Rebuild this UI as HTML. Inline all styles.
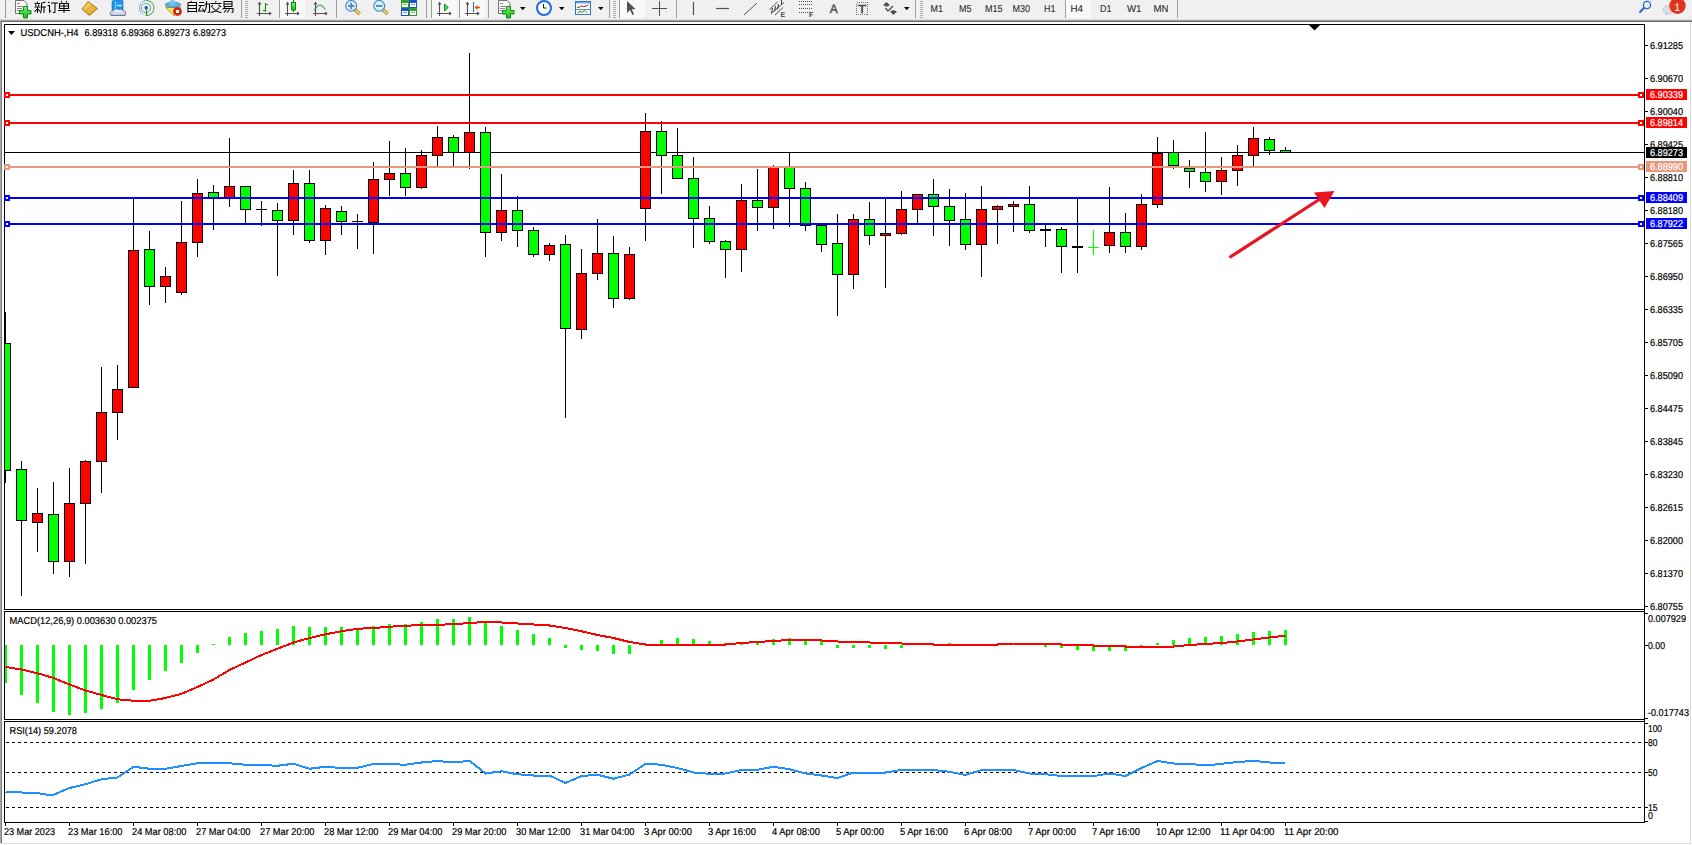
<!DOCTYPE html>
<html><head><meta charset="utf-8"><title>USDCNH H4</title>
<style>html,body{margin:0;padding:0;background:#fff;}svg{display:block;}text{font-family:'Liberation Sans', sans-serif;}</style>
</head><body>
<svg width="1692" height="845" viewBox="0 0 1692 845" style="font-family:'Liberation Sans', sans-serif" text-rendering="geometricPrecision">
<rect x="0" y="0" width="1692" height="845" fill="#fff"/>
<g shape-rendering="crispEdges">
<rect x="0" y="0" width="1692" height="20" fill="#f0f0f0" />
<rect x="0" y="19" width="1692" height="1" fill="#dedede" />
<rect x="0" y="20" width="1692" height="1" fill="#a0a0a0" />
<rect x="0" y="21" width="1692" height="1" fill="#6c6c6c" />
<rect x="280" y="0" width="25" height="18" fill="#f9f9f9" />
<rect x="432" y="0" width="25" height="18" fill="#f9f9f9" />
<rect x="460" y="0" width="25" height="18" fill="#f9f9f9" />
<rect x="620" y="0" width="25" height="18" fill="#f9f9f9" />
<rect x="1066" y="0" width="25" height="18" fill="#f9f9f9" />
<rect x="5" y="0" width="1" height="18" fill="#9c9c9c" />
<rect x="241" y="0" width="1" height="18" fill="#9c9c9c" />
<rect x="279" y="0" width="1" height="18" fill="#9c9c9c" />
<rect x="336" y="0" width="1" height="18" fill="#9c9c9c" />
<rect x="426" y="0" width="1" height="18" fill="#9c9c9c" />
<rect x="431" y="0" width="1" height="18" fill="#9c9c9c" />
<rect x="459" y="0" width="1" height="18" fill="#9c9c9c" />
<rect x="488" y="0" width="1" height="18" fill="#9c9c9c" />
<rect x="609" y="0" width="1" height="18" fill="#9c9c9c" />
<rect x="619" y="0" width="1" height="18" fill="#9c9c9c" />
<rect x="676" y="0" width="1" height="18" fill="#9c9c9c" />
<rect x="915" y="0" width="1" height="18" fill="#9c9c9c" />
<rect x="1065" y="0" width="1" height="18" fill="#9c9c9c" />
<rect x="1177" y="0" width="1" height="18" fill="#9c9c9c" />
<rect x="245" y="1" width="3" height="1" fill="#b0b0b0" />
<rect x="245" y="3" width="3" height="1" fill="#b0b0b0" />
<rect x="245" y="5" width="3" height="1" fill="#b0b0b0" />
<rect x="245" y="7" width="3" height="1" fill="#b0b0b0" />
<rect x="245" y="9" width="3" height="1" fill="#b0b0b0" />
<rect x="245" y="11" width="3" height="1" fill="#b0b0b0" />
<rect x="245" y="13" width="3" height="1" fill="#b0b0b0" />
<rect x="245" y="15" width="3" height="1" fill="#b0b0b0" />
<rect x="245" y="17" width="3" height="1" fill="#b0b0b0" />
<rect x="613" y="1" width="3" height="1" fill="#b0b0b0" />
<rect x="613" y="3" width="3" height="1" fill="#b0b0b0" />
<rect x="613" y="5" width="3" height="1" fill="#b0b0b0" />
<rect x="613" y="7" width="3" height="1" fill="#b0b0b0" />
<rect x="613" y="9" width="3" height="1" fill="#b0b0b0" />
<rect x="613" y="11" width="3" height="1" fill="#b0b0b0" />
<rect x="613" y="13" width="3" height="1" fill="#b0b0b0" />
<rect x="613" y="15" width="3" height="1" fill="#b0b0b0" />
<rect x="613" y="17" width="3" height="1" fill="#b0b0b0" />
<rect x="920" y="1" width="3" height="1" fill="#b0b0b0" />
<rect x="920" y="3" width="3" height="1" fill="#b0b0b0" />
<rect x="920" y="5" width="3" height="1" fill="#b0b0b0" />
<rect x="920" y="7" width="3" height="1" fill="#b0b0b0" />
<rect x="920" y="9" width="3" height="1" fill="#b0b0b0" />
<rect x="920" y="11" width="3" height="1" fill="#b0b0b0" />
<rect x="920" y="13" width="3" height="1" fill="#b0b0b0" />
<rect x="920" y="15" width="3" height="1" fill="#b0b0b0" />
<rect x="920" y="17" width="3" height="1" fill="#b0b0b0" />
</g>
<path d="M15.5,0.5 h8.5 l3,3 v10 h-11.5 z" fill="#fcfcfc" stroke="#707070" stroke-width="1"/>
<path d="M17,3 h3 M17,6.5 h6 M17,8.5 h5 M17,10.5 h4" stroke="#8a8a8a" stroke-width="1" shape-rendering="crispEdges"/>
<path d="M23.5,6.5 h4 v4 h3.5 v3.5 h-3.5 v4 h-4 v-4 h-4 v-3.5 h4 z" fill="url(#grn)" stroke="#0a8010" stroke-width="0.9"/>
<path transform="translate(34,1)" d="M3.5,0.5 v1.2 M0.5,2.5 h5.5 M1.5,3.5 l0.7,1.5 M5,3.5 l-0.7,1.5 M0.5,6 h6 M3.5,6 v6 M3,8 l-2.5,3 M4,8 l2,2.5 M11.5,1 l-4,1.2 M7.5,2.2 v4 q0,4 -1.2,6 M7.5,6 h4.5 M10,6 v6" fill="none" stroke="#000" stroke-width="1.05"/>
<path transform="translate(47,1)" d="M1,0.8 l1.5,1.3 M0.5,4.5 h2 v6.5 l1.5,-1.5 M4,2 h7 M8,2 v9 q0,1 -2.2,0.3" fill="none" stroke="#000" stroke-width="1.05"/>
<path transform="translate(58,1)" d="M3,0 l1,1.5 M9,0 l-1,1.5 M1.5,2.5 h9 v5 h-9 z M1.5,5 h9 M6,2.5 v9.5 M0,9.5 h12" fill="none" stroke="#000" stroke-width="1.05"/>
<defs><linearGradient id="gold" x1="0" y1="0" x2="1" y2="1"><stop offset="0" stop-color="#ffe070"/><stop offset="1" stop-color="#d49a10"/></linearGradient><linearGradient id="grn" x1="0" y1="0" x2="0" y2="1"><stop offset="0" stop-color="#7af07a"/><stop offset="1" stop-color="#10c010"/></linearGradient><linearGradient id="cloud" x1="0" y1="0" x2="0" y2="1"><stop offset="0" stop-color="#ffffff"/><stop offset="1" stop-color="#b8c4d8"/></linearGradient></defs>
<path d="M88,1.5 L97.5,8.5 L89.5,15.5 L82,9 Q85,6 88,1.5 Z" fill="url(#gold)" stroke="#9a6a10" stroke-width="0.9"/>
<path d="M83,9.5 L90,15 M85.5,11 L92,6" stroke="#c89030" stroke-width="0.8" fill="none"/>
<path d="M112,1 L116,0 L123,0.5 L123,10 L112,10 Z" fill="#1a9af0" stroke="#1060c0" stroke-width="0.6"/>
<path d="M115.5,1 v9" stroke="#d0ecff" stroke-width="0.6"/>
<path d="M117,5.5 h5" stroke="#e8f4ff" stroke-width="1.2"/>
<path d="M111,15.5 Q109,11 113,11 Q115,7.5 119,9.5 Q121,8 123,10.5 Q127,11 125,15.5 Z" fill="url(#cloud)" stroke="#4a6090" stroke-width="0.8"/>
<path d="M142.5,14 A7.5,7.5 0 0 1 146,0.5" fill="none" stroke="#4a78d0" stroke-width="1" stroke-dasharray="2 1"/>
<path d="M146,0.5 A7.5,7.5 0 0 1 147,15.5" fill="none" stroke="#40a040" stroke-width="1"/>
<circle cx="146" cy="8" r="4.6" fill="none" stroke="#7aa0d8" stroke-width="1"/>
<path d="M146,3.4 A4.6,4.6 0 0 1 150,10" fill="none" stroke="#70c070" stroke-width="1"/>
<circle cx="146.2" cy="7.8" r="1.8" fill="#2050c8"/>
<path d="M146.5,8 v8" stroke="#10a010" stroke-width="1.2"/>
<path d="M165.5,7.5 L181,7.5 L174,15.8 Z" fill="#f8e060" stroke="#c09020" stroke-width="0.9"/>
<ellipse cx="173" cy="4.8" rx="7.8" ry="2.6" fill="#60b0e0" stroke="#3888c0" stroke-width="0.8"/>
<ellipse cx="172.5" cy="2.6" rx="3" ry="2.6" fill="#78c4ee"/>
<circle cx="177.5" cy="11.5" r="4" fill="#e02810" stroke="#b01808" stroke-width="0.6"/>
<rect x="176" y="10" width="3" height="3" fill="#fff"/>
<path transform="translate(187,1)" d="M4.5,0 l-0.8,1.3 M1,1.5 h8.5 v10 M1,1.5 v10 M1,4.5 h8.5 M1,7.5 h8.5 M1,10.5 h8.5" fill="none" stroke="#000" stroke-width="1.05"/>
<path transform="translate(198,1)" d="M1,1.5 h5 M0.5,4.5 h6 M3,4.5 l-2.5,5.5 h5 M4.5,7.5 l1.5,2.5 M8.5,0 v3 q0,5.5 -2.5,8.5 M6.5,3 h5 v7.5 q0,1 -1.8,0.5" fill="none" stroke="#000" stroke-width="1.05"/>
<path transform="translate(210,1)" d="M5.8,0 v1.5 M0.5,2.5 h11 M3,4 l-2,2.2 M8.5,4 l2.5,2.2 M2.5,6.5 q3.5,4.5 9,5 M9,6.5 q-3,4.5 -8.5,5" fill="none" stroke="#000" stroke-width="1.05"/>
<path transform="translate(222,1)" d="M2,0.5 h8 v5 h-8 z M2,3 h8 M3,6 l-2.5,2.5 M2,7.5 h9 v3 q0,1.2 -1.5,1 M4.5,8.5 l-2.5,3 M7.5,8.5 l-2.5,3" fill="none" stroke="#000" stroke-width="1.05"/>
<path d="M259.5,2.5 v13.5 M257,13.5 h13" stroke="#505050" stroke-width="1.1" fill="none"/>
<path d="M257.5,4.5 l2,-2.8 2,2.8 z M269,11.5 l2.8,2 -2.8,2 z" fill="#505050"/>
<path d="M265.5,3 v9 M265.5,4.5 h2.5 M263,10.5 h2.5" stroke="#108a10" stroke-width="1.1" fill="none"/>
<path d="M287.5,2.5 v13.5 M285,13.5 h13" stroke="#505050" stroke-width="1.1" fill="none"/>
<path d="M285.5,4.5 l2,-2.8 2,2.8 z M297,11.5 l2.8,2 -2.8,2 z" fill="#505050"/>
<rect x="291.5" y="2.5" width="4" height="7.5" fill="url(#grn)" stroke="#0a8a0a" stroke-width="1"/>
<path d="M293.5,0 v2.5 M293.5,10 v2" stroke="#0a8a0a" stroke-width="1"/>
<path d="M315.5,2.5 v13.5 M313,13.5 h13" stroke="#505050" stroke-width="1.1" fill="none"/>
<path d="M313.5,4.5 l2,-2.8 2,2.8 z M325,11.5 l2.8,2 -2.8,2 z" fill="#505050"/>
<path d="M314,10.5 Q318,5 320,5 Q322,5 325.5,9.5" fill="none" stroke="#2a9a2a" stroke-width="1.1"/>
<path d="M354.7,9.5 L359.7,14" stroke="#a07010" stroke-width="3.2"/>
<path d="M354.7,9.5 L359.7,14" stroke="#f0d860" stroke-width="1.8"/>
<circle cx="351.2" cy="5.9" r="5.4" fill="#d8f0ff" stroke="#3a80c8" stroke-width="1.1"/>
<path d="M348.0,5.9 h6.4" stroke="#4a88b0" stroke-width="1.8"/>
<path d="M351.2,2.7 v6.4" stroke="#4a88b0" stroke-width="1.8"/>
<path d="M382.7,9.5 L387.7,14" stroke="#a07010" stroke-width="3.2"/>
<path d="M382.7,9.5 L387.7,14" stroke="#f0d860" stroke-width="1.8"/>
<circle cx="379.2" cy="5.9" r="5.4" fill="#d8f0ff" stroke="#3a80c8" stroke-width="1.1"/>
<path d="M376.0,5.9 h6.4" stroke="#4a88b0" stroke-width="1.8"/>
<rect x="401" y="0" width="8" height="8" fill="#30a020"/>
<rect x="402" y="3" width="6" height="4" fill="#fff"/>
<rect x="403" y="4" width="4" height="1" fill="#30a020" opacity="0.6"/>
<rect x="409" y="0" width="8" height="8" fill="#2050d0"/>
<rect x="410" y="3" width="6" height="4" fill="#fff"/>
<rect x="411" y="4" width="4" height="1" fill="#2050d0" opacity="0.6"/>
<rect x="401" y="8" width="8" height="8" fill="#2050d0"/>
<rect x="402" y="11" width="6" height="4" fill="#fff"/>
<rect x="403" y="12" width="4" height="1" fill="#2050d0" opacity="0.6"/>
<rect x="409" y="8" width="8" height="8" fill="#30a020"/>
<rect x="410" y="11" width="6" height="4" fill="#fff"/>
<rect x="411" y="12" width="4" height="1" fill="#30a020" opacity="0.6"/>
<path d="M439.5,2.5 v13.5 M437,13.5 h13" stroke="#505050" stroke-width="1.1" fill="none"/>
<path d="M437.5,4.5 l2,-2.8 2,2.8 z M449,11.5 l2.8,2 -2.8,2 z" fill="#505050"/>
<path d="M444.5,4 v7 l3.8,-3.5 z" fill="#50d050" stroke="#0a900a" stroke-width="0.9"/>
<path d="M467.5,2.5 v13.5 M465,13.5 h13" stroke="#505050" stroke-width="1.1" fill="none"/>
<path d="M465.5,4.5 l2,-2.8 2,2.8 z M477,11.5 l2.8,2 -2.8,2 z" fill="#505050"/>
<path d="M473.5,2 v10" stroke="#1a70b0" stroke-width="1"/>
<path d="M474.5,7.5 l3,-2.5 v1.8 h2.5 v1.4 h-2.5 v1.8 z" fill="#e05010"/>
<path d="M498.5,0.5 h8.5 l3,3 v10 h-11.5 z" fill="#fcfcfc" stroke="#707070" stroke-width="1"/>
<path d="M500,3 h3 M500,6.5 h6 M500,8.5 h5 M500,10.5 h4" stroke="#8a8a8a" stroke-width="1" shape-rendering="crispEdges"/>
<path d="M506.5,6.5 h4 v4 h3.5 v3.5 h-3.5 v4 h-4 v-4 h-4 v-3.5 h4 z" fill="url(#grn)" stroke="#0a8010" stroke-width="0.9"/>
<path d="M520,7 h5.5 l-2.75,3.2 z" fill="#000"/>
<circle cx="544" cy="8" r="7" fill="#f8fbff" stroke="#1a70d8" stroke-width="2"/>
<path d="M543.5,4 v4 h3" stroke="#222" stroke-width="1" fill="none"/>
<path d="M559,7 h5.5 l-2.75,3.2 z" fill="#000"/>
<rect x="575.5" y="1.5" width="15" height="13" fill="#fff" stroke="#3a70c0"/>
<rect x="576" y="2" width="14" height="1.5" fill="#70a8e8"/>
<path d="M576,9.5 h14" stroke="#5a88c8" stroke-width="1"/>
<path d="M577,7.5 l2.5,-0.5 2,-1.2 2,1 3,-1 2,-0.8" stroke="#902010" fill="none" stroke-width="1"/>
<path d="M577.5,12.5 l2.5,-1 2,0.8 2.5,-2 2.5,2.5" stroke="#109010" fill="none" stroke-width="1"/>
<path d="M598,7 h5.5 l-2.75,3.2 z" fill="#000"/>
<path d="M627,1 v12 l3,-3 l2.5,5 l1.6,-0.8 l-2.4,-5 h4 z" fill="#505050"/>
<path d="M659.5,1 v15 M652,8.5 h15" stroke="#505050" stroke-width="1" shape-rendering="crispEdges"/>
<path d="M693.5,2 v13" stroke="#505050" stroke-width="1.2"/>
<path d="M716,8.5 h13" stroke="#505050" stroke-width="1.2"/>
<path d="M744,15 l13,-12" stroke="#505050" stroke-width="1"/>
<path d="M769.5,9.5 l8,-7.5 M771,13.5 l13,-11 M775,15 l8,-7.5" stroke="#404040" stroke-width="0.9"/>
<path d="M772.5,8 l-1,5.5 M775.5,6 l-1,5.5 M778.5,4 l-1,5.5 M781.5,0 v4" stroke="#404040" stroke-width="1.1"/>
<text x="780.5" y="17" font-size="7" fill="#444" font-weight="bold" >E</text>
<g fill="#505050" shape-rendering="crispEdges">
<rect x="799" y="1" width="1" height="1"/>
<rect x="801" y="1" width="1" height="1"/>
<rect x="803" y="1" width="1" height="1"/>
<rect x="805" y="1" width="1" height="1"/>
<rect x="807" y="1" width="1" height="1"/>
<rect x="809" y="1" width="1" height="1"/>
<rect x="811" y="1" width="1" height="1"/>
<rect x="799" y="4" width="1" height="1"/>
<rect x="801" y="4" width="1" height="1"/>
<rect x="803" y="4" width="1" height="1"/>
<rect x="805" y="4" width="1" height="1"/>
<rect x="807" y="4" width="1" height="1"/>
<rect x="809" y="4" width="1" height="1"/>
<rect x="811" y="4" width="1" height="1"/>
<rect x="799" y="8" width="1" height="1"/>
<rect x="801" y="8" width="1" height="1"/>
<rect x="803" y="8" width="1" height="1"/>
<rect x="805" y="8" width="1" height="1"/>
<rect x="807" y="8" width="1" height="1"/>
<rect x="809" y="8" width="1" height="1"/>
<rect x="811" y="8" width="1" height="1"/>
<rect x="799" y="12" width="1" height="1"/>
<rect x="801" y="12" width="1" height="1"/>
<rect x="803" y="12" width="1" height="1"/>
<rect x="805" y="12" width="1" height="1"/>
<rect x="807" y="12" width="1" height="1"/>
<rect x="809" y="12" width="1" height="1"/>
<rect x="811" y="12" width="1" height="1"/>
</g>
<text x="809" y="17" font-size="7" fill="#444" font-weight="bold" >F</text>
<text x="829.8" y="13" font-size="12.5" fill="#4a4a4a" stroke="#4a4a4a" stroke-width="0.35" textLength="8" lengthAdjust="spacingAndGlyphs" >A</text>
<rect x="856.5" y="2.5" width="11" height="12" fill="none" stroke="#707070" stroke-dasharray="1 1" shape-rendering="crispEdges"/>
<text x="857.7" y="12.8" font-size="11.5" fill="#4a4a4a" stroke="#4a4a4a" stroke-width="0.45" textLength="8.5" lengthAdjust="spacingAndGlyphs" >T</text>
<path d="M883,5.2 l3.5,-3.2 3.5,3.2 -3.5,1.5 z M890,11.5 l3.5,-1.5 3.5,1.5 -3.5,3.5 z" fill="#505050"/>
<path d="M885.5,8 l2.5,3 5,-5" stroke="#505050" stroke-width="1.4" fill="none"/>
<path d="M904,7 h5.5 l-2.75,3.2 z" fill="#000"/>
<text x="930.5" y="12" font-size="10" fill="#2a2a2a" stroke="#2a2a2a" stroke-width="0.1" textLength="12.5" lengthAdjust="spacingAndGlyphs" >M1</text>
<text x="959" y="12" font-size="10" fill="#2a2a2a" stroke="#2a2a2a" stroke-width="0.1" textLength="12.5" lengthAdjust="spacingAndGlyphs" >M5</text>
<text x="985" y="12" font-size="10" fill="#2a2a2a" stroke="#2a2a2a" stroke-width="0.1" textLength="17.5" lengthAdjust="spacingAndGlyphs" >M15</text>
<text x="1012.5" y="12" font-size="10" fill="#2a2a2a" stroke="#2a2a2a" stroke-width="0.1" textLength="17.5" lengthAdjust="spacingAndGlyphs" >M30</text>
<text x="1044" y="12" font-size="10" fill="#2a2a2a" stroke="#2a2a2a" stroke-width="0.1" textLength="11.5" lengthAdjust="spacingAndGlyphs" >H1</text>
<text x="1070.5" y="12" font-size="10" fill="#2a2a2a" stroke="#2a2a2a" stroke-width="0.1" textLength="12.5" lengthAdjust="spacingAndGlyphs" >H4</text>
<text x="1100" y="12" font-size="10" fill="#2a2a2a" stroke="#2a2a2a" stroke-width="0.1" textLength="11.5" lengthAdjust="spacingAndGlyphs" >D1</text>
<text x="1127" y="12" font-size="10" fill="#2a2a2a" stroke="#2a2a2a" stroke-width="0.1" textLength="14.5" lengthAdjust="spacingAndGlyphs" >W1</text>
<text x="1153.5" y="12" font-size="10" fill="#2a2a2a" stroke="#2a2a2a" stroke-width="0.1" textLength="15.0" lengthAdjust="spacingAndGlyphs" >MN</text>
<circle cx="1647" cy="5" r="3.6" fill="none" stroke="#2a60d0" stroke-width="1.3"/>
<path d="M1644.5,7.5 l-5,5" stroke="#2a60d0" stroke-width="2"/>
<ellipse cx="1668" cy="10" rx="5" ry="4.2" fill="#dadde6" stroke="#c0c0c0" stroke-width="0.8"/>
<path d="M1666,13 l-1,3 3,-2 z" fill="#c8c8c8"/>
<circle cx="1677.5" cy="5.8" r="8.2" fill="#e0341c"/>
<text x="1674.5" y="10.5" font-size="11" fill="#fff" stroke="#fff" stroke-width="0.1" textLength="5.5" lengthAdjust="spacingAndGlyphs" >1</text>
<g shape-rendering="crispEdges">
<rect x="0" y="21" width="1" height="822" fill="#a8a8a8" />
<rect x="1" y="21" width="1" height="822" fill="#7c7c7c" />
<rect x="1690" y="22" width="1" height="822" fill="#dcdcdc" />
<rect x="0" y="843" width="1691" height="1" fill="#dcdcdc" />
<rect x="4" y="24" width="1641" height="1" fill="#000" />
<rect x="4" y="24" width="1" height="586" fill="#000" />
<rect x="4" y="609" width="1641" height="1" fill="#000" />
<rect x="1644" y="24" width="1" height="799" fill="#000" />
<rect x="4" y="611" width="1641" height="1" fill="#000" />
<rect x="4" y="611" width="1" height="109" fill="#000" />
<rect x="4" y="719" width="1641" height="1" fill="#000" />
<rect x="4" y="721" width="1641" height="1" fill="#000" />
<rect x="4" y="721" width="1" height="102" fill="#000" />
<rect x="4" y="822" width="1641" height="1" fill="#000" />
</g>
<svg x="5" y="25" width="1639" height="584" overflow="hidden"><g transform="translate(-5,-25)" shape-rendering="crispEdges">
<rect x="5" y="152" width="1639" height="1" fill="#000" />
<rect x="5" y="312" width="1" height="171" fill="#000" />
<rect x="0" y="343" width="11" height="128" fill="#000" />
<rect x="1" y="344" width="9" height="126" fill="#00ff00" />
<rect x="21" y="461" width="1" height="135" fill="#000" />
<rect x="16" y="469" width="11" height="52" fill="#000" />
<rect x="17" y="470" width="9" height="50" fill="#00ff00" />
<rect x="37" y="488" width="1" height="64" fill="#000" />
<rect x="32" y="513" width="11" height="10" fill="#000" />
<rect x="33" y="514" width="9" height="8" fill="#ff0000" />
<rect x="53" y="482" width="1" height="92" fill="#000" />
<rect x="48" y="514" width="11" height="48" fill="#000" />
<rect x="49" y="515" width="9" height="46" fill="#00ff00" />
<rect x="69" y="468" width="1" height="109" fill="#000" />
<rect x="64" y="503" width="11" height="59" fill="#000" />
<rect x="65" y="504" width="9" height="57" fill="#ff0000" />
<rect x="85" y="460" width="1" height="104" fill="#000" />
<rect x="80" y="461" width="11" height="43" fill="#000" />
<rect x="81" y="462" width="9" height="41" fill="#ff0000" />
<rect x="101" y="367" width="1" height="126" fill="#000" />
<rect x="96" y="412" width="11" height="50" fill="#000" />
<rect x="97" y="413" width="9" height="48" fill="#ff0000" />
<rect x="117" y="365" width="1" height="75" fill="#000" />
<rect x="112" y="389" width="11" height="24" fill="#000" />
<rect x="113" y="390" width="9" height="22" fill="#ff0000" />
<rect x="133" y="198" width="1" height="190" fill="#000" />
<rect x="128" y="250" width="11" height="138" fill="#000" />
<rect x="129" y="251" width="9" height="136" fill="#ff0000" />
<rect x="149" y="231" width="1" height="74" fill="#000" />
<rect x="144" y="249" width="11" height="38" fill="#000" />
<rect x="145" y="250" width="9" height="36" fill="#00ff00" />
<rect x="165" y="267" width="1" height="36" fill="#000" />
<rect x="160" y="276" width="11" height="11" fill="#000" />
<rect x="161" y="277" width="9" height="9" fill="#ff0000" />
<rect x="181" y="201" width="1" height="94" fill="#000" />
<rect x="176" y="242" width="11" height="51" fill="#000" />
<rect x="177" y="243" width="9" height="49" fill="#ff0000" />
<rect x="197" y="179" width="1" height="78" fill="#000" />
<rect x="192" y="193" width="11" height="50" fill="#000" />
<rect x="193" y="194" width="9" height="48" fill="#ff0000" />
<rect x="213" y="185" width="1" height="45" fill="#000" />
<rect x="208" y="192" width="11" height="6" fill="#000" />
<rect x="209" y="193" width="9" height="4" fill="#00ff00" />
<rect x="229" y="138" width="1" height="69" fill="#000" />
<rect x="224" y="186" width="11" height="12" fill="#000" />
<rect x="225" y="187" width="9" height="10" fill="#ff0000" />
<rect x="245" y="186" width="1" height="37" fill="#000" />
<rect x="240" y="186" width="11" height="24" fill="#000" />
<rect x="241" y="187" width="9" height="22" fill="#00ff00" />
<rect x="261" y="201" width="1" height="25" fill="#000" />
<rect x="256" y="209" width="11" height="1" fill="#000" />
<rect x="277" y="203" width="1" height="73" fill="#000" />
<rect x="272" y="210" width="11" height="11" fill="#000" />
<rect x="273" y="211" width="9" height="9" fill="#00ff00" />
<rect x="293" y="170" width="1" height="65" fill="#000" />
<rect x="288" y="183" width="11" height="38" fill="#000" />
<rect x="289" y="184" width="9" height="36" fill="#ff0000" />
<rect x="309" y="170" width="1" height="73" fill="#000" />
<rect x="304" y="183" width="11" height="58" fill="#000" />
<rect x="305" y="184" width="9" height="56" fill="#00ff00" />
<rect x="325" y="205" width="1" height="50" fill="#000" />
<rect x="320" y="208" width="11" height="33" fill="#000" />
<rect x="321" y="209" width="9" height="31" fill="#ff0000" />
<rect x="341" y="206" width="1" height="29" fill="#000" />
<rect x="336" y="211" width="11" height="11" fill="#000" />
<rect x="337" y="212" width="9" height="9" fill="#00ff00" />
<rect x="357" y="214" width="1" height="35" fill="#000" />
<rect x="352" y="221" width="11" height="1" fill="#000" />
<rect x="373" y="162" width="1" height="92" fill="#000" />
<rect x="368" y="179" width="11" height="44" fill="#000" />
<rect x="369" y="180" width="9" height="42" fill="#ff0000" />
<rect x="389" y="141" width="1" height="55" fill="#000" />
<rect x="384" y="173" width="11" height="7" fill="#000" />
<rect x="385" y="174" width="9" height="5" fill="#ff0000" />
<rect x="405" y="148" width="1" height="48" fill="#000" />
<rect x="400" y="173" width="11" height="15" fill="#000" />
<rect x="401" y="174" width="9" height="13" fill="#00ff00" />
<rect x="421" y="150" width="1" height="39" fill="#000" />
<rect x="416" y="155" width="11" height="33" fill="#000" />
<rect x="417" y="156" width="9" height="31" fill="#ff0000" />
<rect x="437" y="126" width="1" height="41" fill="#000" />
<rect x="432" y="137" width="11" height="19" fill="#000" />
<rect x="433" y="138" width="9" height="17" fill="#ff0000" />
<rect x="453" y="135" width="1" height="32" fill="#000" />
<rect x="448" y="137" width="11" height="16" fill="#000" />
<rect x="449" y="138" width="9" height="14" fill="#00ff00" />
<rect x="469" y="53" width="1" height="116" fill="#000" />
<rect x="464" y="132" width="11" height="21" fill="#000" />
<rect x="465" y="133" width="9" height="19" fill="#ff0000" />
<rect x="485" y="127" width="1" height="130" fill="#000" />
<rect x="480" y="132" width="11" height="101" fill="#000" />
<rect x="481" y="133" width="9" height="99" fill="#00ff00" />
<rect x="501" y="174" width="1" height="67" fill="#000" />
<rect x="496" y="210" width="11" height="23" fill="#000" />
<rect x="497" y="211" width="9" height="21" fill="#ff0000" />
<rect x="517" y="196" width="1" height="51" fill="#000" />
<rect x="512" y="210" width="11" height="21" fill="#000" />
<rect x="513" y="211" width="9" height="19" fill="#00ff00" />
<rect x="533" y="227" width="1" height="30" fill="#000" />
<rect x="528" y="230" width="11" height="25" fill="#000" />
<rect x="529" y="231" width="9" height="23" fill="#00ff00" />
<rect x="549" y="243" width="1" height="18" fill="#000" />
<rect x="544" y="245" width="11" height="10" fill="#000" />
<rect x="545" y="246" width="9" height="8" fill="#ff0000" />
<rect x="565" y="235" width="1" height="183" fill="#000" />
<rect x="560" y="244" width="11" height="85" fill="#000" />
<rect x="561" y="245" width="9" height="83" fill="#00ff00" />
<rect x="581" y="249" width="1" height="90" fill="#000" />
<rect x="576" y="273" width="11" height="57" fill="#000" />
<rect x="577" y="274" width="9" height="55" fill="#ff0000" />
<rect x="597" y="219" width="1" height="61" fill="#000" />
<rect x="592" y="253" width="11" height="21" fill="#000" />
<rect x="593" y="254" width="9" height="19" fill="#ff0000" />
<rect x="613" y="236" width="1" height="72" fill="#000" />
<rect x="608" y="253" width="11" height="46" fill="#000" />
<rect x="609" y="254" width="9" height="44" fill="#00ff00" />
<rect x="629" y="247" width="1" height="53" fill="#000" />
<rect x="624" y="254" width="11" height="45" fill="#000" />
<rect x="625" y="255" width="9" height="43" fill="#ff0000" />
<rect x="645" y="113" width="1" height="128" fill="#000" />
<rect x="640" y="131" width="11" height="78" fill="#000" />
<rect x="641" y="132" width="9" height="76" fill="#ff0000" />
<rect x="661" y="121" width="1" height="73" fill="#000" />
<rect x="656" y="131" width="11" height="25" fill="#000" />
<rect x="657" y="132" width="9" height="23" fill="#00ff00" />
<rect x="677" y="128" width="1" height="51" fill="#000" />
<rect x="672" y="155" width="11" height="24" fill="#000" />
<rect x="673" y="156" width="9" height="22" fill="#00ff00" />
<rect x="693" y="157" width="1" height="91" fill="#000" />
<rect x="688" y="178" width="11" height="41" fill="#000" />
<rect x="689" y="179" width="9" height="39" fill="#00ff00" />
<rect x="709" y="206" width="1" height="38" fill="#000" />
<rect x="704" y="218" width="11" height="24" fill="#000" />
<rect x="705" y="219" width="9" height="22" fill="#00ff00" />
<rect x="725" y="240" width="1" height="38" fill="#000" />
<rect x="720" y="241" width="11" height="9" fill="#000" />
<rect x="721" y="242" width="9" height="7" fill="#00ff00" />
<rect x="741" y="184" width="1" height="88" fill="#000" />
<rect x="736" y="200" width="11" height="50" fill="#000" />
<rect x="737" y="201" width="9" height="48" fill="#ff0000" />
<rect x="757" y="169" width="1" height="62" fill="#000" />
<rect x="752" y="200" width="11" height="8" fill="#000" />
<rect x="753" y="201" width="9" height="6" fill="#00ff00" />
<rect x="773" y="165" width="1" height="64" fill="#000" />
<rect x="768" y="167" width="11" height="41" fill="#000" />
<rect x="769" y="168" width="9" height="39" fill="#ff0000" />
<rect x="789" y="152" width="1" height="75" fill="#000" />
<rect x="784" y="167" width="11" height="22" fill="#000" />
<rect x="785" y="168" width="9" height="20" fill="#00ff00" />
<rect x="805" y="182" width="1" height="49" fill="#000" />
<rect x="800" y="188" width="11" height="38" fill="#000" />
<rect x="801" y="189" width="9" height="36" fill="#00ff00" />
<rect x="821" y="225" width="1" height="27" fill="#000" />
<rect x="816" y="225" width="11" height="20" fill="#000" />
<rect x="817" y="226" width="9" height="18" fill="#00ff00" />
<rect x="837" y="214" width="1" height="102" fill="#000" />
<rect x="832" y="243" width="11" height="32" fill="#000" />
<rect x="833" y="244" width="9" height="30" fill="#00ff00" />
<rect x="853" y="214" width="1" height="75" fill="#000" />
<rect x="848" y="219" width="11" height="56" fill="#000" />
<rect x="849" y="220" width="9" height="54" fill="#ff0000" />
<rect x="869" y="202" width="1" height="43" fill="#000" />
<rect x="864" y="219" width="11" height="17" fill="#000" />
<rect x="865" y="220" width="9" height="15" fill="#00ff00" />
<rect x="885" y="198" width="1" height="90" fill="#000" />
<rect x="880" y="233" width="11" height="3" fill="#000" />
<rect x="881" y="234" width="9" height="1" fill="#ff0000" />
<rect x="901" y="191" width="1" height="44" fill="#000" />
<rect x="896" y="209" width="11" height="25" fill="#000" />
<rect x="897" y="210" width="9" height="23" fill="#ff0000" />
<rect x="917" y="194" width="1" height="29" fill="#000" />
<rect x="912" y="194" width="11" height="16" fill="#000" />
<rect x="913" y="195" width="9" height="14" fill="#ff0000" />
<rect x="933" y="179" width="1" height="57" fill="#000" />
<rect x="928" y="194" width="11" height="13" fill="#000" />
<rect x="929" y="195" width="9" height="11" fill="#00ff00" />
<rect x="949" y="189" width="1" height="57" fill="#000" />
<rect x="944" y="206" width="11" height="15" fill="#000" />
<rect x="945" y="207" width="9" height="13" fill="#00ff00" />
<rect x="965" y="193" width="1" height="57" fill="#000" />
<rect x="960" y="219" width="11" height="26" fill="#000" />
<rect x="961" y="220" width="9" height="24" fill="#00ff00" />
<rect x="981" y="186" width="1" height="91" fill="#000" />
<rect x="976" y="209" width="11" height="36" fill="#000" />
<rect x="977" y="210" width="9" height="34" fill="#ff0000" />
<rect x="997" y="205" width="1" height="39" fill="#000" />
<rect x="992" y="206" width="11" height="4" fill="#000" />
<rect x="993" y="207" width="9" height="2" fill="#ff0000" />
<rect x="1013" y="201" width="1" height="31" fill="#000" />
<rect x="1008" y="204" width="11" height="3" fill="#000" />
<rect x="1009" y="205" width="9" height="1" fill="#ff0000" />
<rect x="1029" y="186" width="1" height="47" fill="#000" />
<rect x="1024" y="204" width="11" height="27" fill="#000" />
<rect x="1025" y="205" width="9" height="25" fill="#00ff00" />
<rect x="1045" y="225" width="1" height="22" fill="#000" />
<rect x="1040" y="229" width="11" height="2" fill="#000" />
<rect x="1061" y="227" width="1" height="46" fill="#000" />
<rect x="1056" y="229" width="11" height="18" fill="#000" />
<rect x="1057" y="230" width="9" height="16" fill="#00ff00" />
<rect x="1077" y="198" width="1" height="75" fill="#000" />
<rect x="1072" y="246" width="11" height="2" fill="#000" />
<rect x="1093" y="230" width="1" height="25" fill="#00ff00" />
<rect x="1088" y="247" width="11" height="1" fill="#00ff00" />
<rect x="1109" y="187" width="1" height="66" fill="#000" />
<rect x="1104" y="232" width="11" height="14" fill="#000" />
<rect x="1105" y="233" width="9" height="12" fill="#ff0000" />
<rect x="1125" y="213" width="1" height="40" fill="#000" />
<rect x="1120" y="232" width="11" height="15" fill="#000" />
<rect x="1121" y="233" width="9" height="13" fill="#00ff00" />
<rect x="1141" y="194" width="1" height="56" fill="#000" />
<rect x="1136" y="204" width="11" height="43" fill="#000" />
<rect x="1137" y="205" width="9" height="41" fill="#ff0000" />
<rect x="1157" y="137" width="1" height="71" fill="#000" />
<rect x="1152" y="153" width="11" height="52" fill="#000" />
<rect x="1153" y="154" width="9" height="50" fill="#ff0000" />
<rect x="1173" y="140" width="1" height="29" fill="#000" />
<rect x="1168" y="152" width="11" height="14" fill="#000" />
<rect x="1169" y="153" width="9" height="12" fill="#00ff00" />
<rect x="1189" y="160" width="1" height="28" fill="#000" />
<rect x="1184" y="168" width="11" height="4" fill="#000" />
<rect x="1185" y="169" width="9" height="2" fill="#00ff00" />
<rect x="1205" y="132" width="1" height="60" fill="#000" />
<rect x="1200" y="172" width="11" height="10" fill="#000" />
<rect x="1201" y="173" width="9" height="8" fill="#00ff00" />
<rect x="1221" y="157" width="1" height="38" fill="#000" />
<rect x="1216" y="170" width="11" height="12" fill="#000" />
<rect x="1217" y="171" width="9" height="10" fill="#ff0000" />
<rect x="1237" y="145" width="1" height="41" fill="#000" />
<rect x="1232" y="155" width="11" height="16" fill="#000" />
<rect x="1233" y="156" width="9" height="14" fill="#ff0000" />
<rect x="1253" y="127" width="1" height="39" fill="#000" />
<rect x="1248" y="138" width="11" height="18" fill="#000" />
<rect x="1249" y="139" width="9" height="16" fill="#ff0000" />
<rect x="1269" y="137" width="1" height="18" fill="#000" />
<rect x="1264" y="139" width="11" height="12" fill="#000" />
<rect x="1265" y="140" width="9" height="10" fill="#00ff00" />
<rect x="1285" y="147" width="1" height="6" fill="#000" />
<rect x="1280" y="150" width="11" height="3" fill="#000" />
<rect x="1281" y="151" width="9" height="1" fill="#00ff00" />
<rect x="5" y="94" width="1639" height="2" fill="#ff0000" />
<rect x="5" y="122" width="1639" height="2" fill="#ff0000" />
<rect x="5" y="166" width="1639" height="2" fill="#e9967a" />
<rect x="5" y="197" width="1639" height="2" fill="#0000ff" />
<rect x="5" y="223" width="1639" height="2" fill="#0000ff" />
</g></svg>
<g shape-rendering="crispEdges">
<rect x="1638" y="92" width="6" height="6" fill="#ff0000" />
<rect x="1640" y="94" width="2" height="2" fill="#fff" />
<rect x="4" y="92" width="6" height="6" fill="#ff0000" />
<rect x="6" y="94" width="2" height="2" fill="#fff" />
<rect x="1638" y="120" width="6" height="6" fill="#ff0000" />
<rect x="1640" y="122" width="2" height="2" fill="#fff" />
<rect x="4" y="120" width="6" height="6" fill="#ff0000" />
<rect x="6" y="122" width="2" height="2" fill="#fff" />
<rect x="1638" y="164" width="6" height="6" fill="#e9967a" />
<rect x="1640" y="166" width="2" height="2" fill="#fff" />
<rect x="4" y="164" width="6" height="6" fill="#e9967a" />
<rect x="6" y="166" width="2" height="2" fill="#fff" />
<rect x="1638" y="195" width="6" height="6" fill="#0000ff" />
<rect x="1640" y="197" width="2" height="2" fill="#fff" />
<rect x="4" y="195" width="6" height="6" fill="#0000ff" />
<rect x="6" y="197" width="2" height="2" fill="#fff" />
<rect x="1638" y="221" width="6" height="6" fill="#0000ff" />
<rect x="1640" y="223" width="2" height="2" fill="#fff" />
<rect x="4" y="221" width="6" height="6" fill="#0000ff" />
<rect x="6" y="223" width="2" height="2" fill="#fff" />
</g>
<line x1="1229.5" y1="257.5" x2="1320" y2="199" stroke="#e8141e" stroke-width="3.2"/>
<polygon points="1314,192.5 1334.5,191 1324.5,208" fill="#e8141e"/>
<polygon points="1309,25 1320,25 1314.5,30.5" fill="#000"/>
<polygon points="8,31 15,31 11.5,35" fill="#000"/>
<text x="20.5" y="36" font-size="10" fill="#000" stroke="#000" stroke-width="0.2" textLength="58" lengthAdjust="spacingAndGlyphs" >USDCNH-,H4</text>
<text x="84.5" y="36" font-size="10" fill="#000" stroke="#000" stroke-width="0.2" textLength="33.3" lengthAdjust="spacingAndGlyphs" >6.89318</text>
<text x="121" y="36" font-size="10" fill="#000" stroke="#000" stroke-width="0.2" textLength="33" lengthAdjust="spacingAndGlyphs" >6.89368</text>
<text x="157" y="36" font-size="10" fill="#000" stroke="#000" stroke-width="0.2" textLength="33" lengthAdjust="spacingAndGlyphs" >6.89273</text>
<text x="193" y="36" font-size="10" fill="#000" stroke="#000" stroke-width="0.2" textLength="33" lengthAdjust="spacingAndGlyphs" >6.89273</text>
<g shape-rendering="crispEdges">
<rect x="1645" y="45" width="3" height="1" fill="#000" />
<rect x="1645" y="78" width="3" height="1" fill="#000" />
<rect x="1645" y="111" width="3" height="1" fill="#000" />
<rect x="1645" y="144" width="3" height="1" fill="#000" />
<rect x="1645" y="177" width="3" height="1" fill="#000" />
<rect x="1645" y="210" width="3" height="1" fill="#000" />
<rect x="1645" y="243" width="3" height="1" fill="#000" />
<rect x="1645" y="276" width="3" height="1" fill="#000" />
<rect x="1645" y="309" width="3" height="1" fill="#000" />
<rect x="1645" y="342" width="3" height="1" fill="#000" />
<rect x="1645" y="375" width="3" height="1" fill="#000" />
<rect x="1645" y="408" width="3" height="1" fill="#000" />
<rect x="1645" y="441" width="3" height="1" fill="#000" />
<rect x="1645" y="474" width="3" height="1" fill="#000" />
<rect x="1645" y="507" width="3" height="1" fill="#000" />
<rect x="1645" y="540" width="3" height="1" fill="#000" />
<rect x="1645" y="573" width="3" height="1" fill="#000" />
<rect x="1645" y="606" width="3" height="1" fill="#000" />
</g>
<text x="1650" y="49" font-size="10" fill="#000" stroke="#000" stroke-width="0.2" textLength="33" lengthAdjust="spacingAndGlyphs" >6.91285</text>
<text x="1650" y="82" font-size="10" fill="#000" stroke="#000" stroke-width="0.2" textLength="33" lengthAdjust="spacingAndGlyphs" >6.90670</text>
<text x="1650" y="115" font-size="10" fill="#000" stroke="#000" stroke-width="0.2" textLength="33" lengthAdjust="spacingAndGlyphs" >6.90040</text>
<text x="1650" y="148" font-size="10" fill="#000" stroke="#000" stroke-width="0.2" textLength="33" lengthAdjust="spacingAndGlyphs" >6.89425</text>
<text x="1650" y="181" font-size="10" fill="#000" stroke="#000" stroke-width="0.2" textLength="33" lengthAdjust="spacingAndGlyphs" >6.88810</text>
<text x="1650" y="214" font-size="10" fill="#000" stroke="#000" stroke-width="0.2" textLength="33" lengthAdjust="spacingAndGlyphs" >6.88180</text>
<text x="1650" y="247" font-size="10" fill="#000" stroke="#000" stroke-width="0.2" textLength="33" lengthAdjust="spacingAndGlyphs" >6.87565</text>
<text x="1650" y="280" font-size="10" fill="#000" stroke="#000" stroke-width="0.2" textLength="33" lengthAdjust="spacingAndGlyphs" >6.86950</text>
<text x="1650" y="313" font-size="10" fill="#000" stroke="#000" stroke-width="0.2" textLength="33" lengthAdjust="spacingAndGlyphs" >6.86335</text>
<text x="1650" y="346" font-size="10" fill="#000" stroke="#000" stroke-width="0.2" textLength="33" lengthAdjust="spacingAndGlyphs" >6.85705</text>
<text x="1650" y="379" font-size="10" fill="#000" stroke="#000" stroke-width="0.2" textLength="33" lengthAdjust="spacingAndGlyphs" >6.85090</text>
<text x="1650" y="412" font-size="10" fill="#000" stroke="#000" stroke-width="0.2" textLength="33" lengthAdjust="spacingAndGlyphs" >6.84475</text>
<text x="1650" y="445" font-size="10" fill="#000" stroke="#000" stroke-width="0.2" textLength="33" lengthAdjust="spacingAndGlyphs" >6.83845</text>
<text x="1650" y="478" font-size="10" fill="#000" stroke="#000" stroke-width="0.2" textLength="33" lengthAdjust="spacingAndGlyphs" >6.83230</text>
<text x="1650" y="511" font-size="10" fill="#000" stroke="#000" stroke-width="0.2" textLength="33" lengthAdjust="spacingAndGlyphs" >6.82615</text>
<text x="1650" y="544" font-size="10" fill="#000" stroke="#000" stroke-width="0.2" textLength="33" lengthAdjust="spacingAndGlyphs" >6.82000</text>
<text x="1650" y="577" font-size="10" fill="#000" stroke="#000" stroke-width="0.2" textLength="33" lengthAdjust="spacingAndGlyphs" >6.81370</text>
<text x="1650" y="610" font-size="10" fill="#000" stroke="#000" stroke-width="0.2" textLength="33" lengthAdjust="spacingAndGlyphs" >6.80755</text>
<g shape-rendering="crispEdges">
<rect x="1646" y="89" width="41" height="11" fill="#ff0000" />
<rect x="1646" y="117" width="41" height="11" fill="#ff0000" />
<rect x="1646" y="147" width="41" height="11" fill="#000000" />
<rect x="1646" y="161" width="41" height="11" fill="#e9967a" />
<rect x="1646" y="192" width="41" height="11" fill="#0000ff" />
<rect x="1646" y="218" width="41" height="11" fill="#0000ff" />
</g>
<text x="1650" y="98" font-size="10" fill="#fff" stroke="#fff" stroke-width="0.2" textLength="33" lengthAdjust="spacingAndGlyphs" >6.90339</text>
<text x="1650" y="126" font-size="10" fill="#fff" stroke="#fff" stroke-width="0.2" textLength="33" lengthAdjust="spacingAndGlyphs" >6.89814</text>
<text x="1650" y="156" font-size="10" fill="#fff" stroke="#fff" stroke-width="0.2" textLength="33" lengthAdjust="spacingAndGlyphs" >6.89273</text>
<text x="1650" y="170" font-size="10" fill="#fff" stroke="#fff" stroke-width="0.2" textLength="33" lengthAdjust="spacingAndGlyphs" >6.88990</text>
<text x="1650" y="201" font-size="10" fill="#fff" stroke="#fff" stroke-width="0.2" textLength="33" lengthAdjust="spacingAndGlyphs" >6.88409</text>
<text x="1650" y="227" font-size="10" fill="#fff" stroke="#fff" stroke-width="0.2" textLength="33" lengthAdjust="spacingAndGlyphs" >6.87922</text>
<svg x="5" y="612" width="1639" height="107" overflow="hidden"><g transform="translate(-5,-612)">
<g shape-rendering="crispEdges">
<rect x="4" y="645" width="3" height="38" fill="#00ff00" />
<rect x="20" y="645" width="3" height="50" fill="#00ff00" />
<rect x="36" y="645" width="3" height="58" fill="#00ff00" />
<rect x="52" y="645" width="3" height="67" fill="#00ff00" />
<rect x="68" y="645" width="3" height="70" fill="#00ff00" />
<rect x="84" y="645" width="3" height="68" fill="#00ff00" />
<rect x="100" y="645" width="3" height="64" fill="#00ff00" />
<rect x="116" y="645" width="3" height="58" fill="#00ff00" />
<rect x="132" y="645" width="3" height="45" fill="#00ff00" />
<rect x="148" y="645" width="3" height="35" fill="#00ff00" />
<rect x="164" y="645" width="3" height="26" fill="#00ff00" />
<rect x="180" y="645" width="3" height="18" fill="#00ff00" />
<rect x="196" y="645" width="3" height="8" fill="#00ff00" />
<rect x="212" y="644" width="3" height="1" fill="#00ff00" />
<rect x="228" y="637" width="3" height="8" fill="#00ff00" />
<rect x="244" y="633" width="3" height="12" fill="#00ff00" />
<rect x="260" y="631" width="3" height="14" fill="#00ff00" />
<rect x="276" y="629" width="3" height="16" fill="#00ff00" />
<rect x="292" y="626" width="3" height="19" fill="#00ff00" />
<rect x="308" y="627" width="3" height="18" fill="#00ff00" />
<rect x="324" y="627" width="3" height="18" fill="#00ff00" />
<rect x="340" y="627" width="3" height="18" fill="#00ff00" />
<rect x="356" y="628" width="3" height="17" fill="#00ff00" />
<rect x="372" y="626" width="3" height="19" fill="#00ff00" />
<rect x="388" y="624" width="3" height="21" fill="#00ff00" />
<rect x="404" y="624" width="3" height="21" fill="#00ff00" />
<rect x="420" y="622" width="3" height="23" fill="#00ff00" />
<rect x="436" y="619" width="3" height="26" fill="#00ff00" />
<rect x="452" y="619" width="3" height="26" fill="#00ff00" />
<rect x="468" y="617" width="3" height="28" fill="#00ff00" />
<rect x="484" y="623" width="3" height="22" fill="#00ff00" />
<rect x="500" y="626" width="3" height="19" fill="#00ff00" />
<rect x="516" y="630" width="3" height="15" fill="#00ff00" />
<rect x="532" y="634" width="3" height="11" fill="#00ff00" />
<rect x="548" y="638" width="3" height="7" fill="#00ff00" />
<rect x="564" y="645" width="3" height="3" fill="#00ff00" />
<rect x="580" y="645" width="3" height="5" fill="#00ff00" />
<rect x="596" y="645" width="3" height="6" fill="#00ff00" />
<rect x="612" y="645" width="3" height="9" fill="#00ff00" />
<rect x="628" y="645" width="3" height="9" fill="#00ff00" />
<rect x="660" y="640" width="3" height="5" fill="#00ff00" />
<rect x="676" y="638" width="3" height="7" fill="#00ff00" />
<rect x="692" y="639" width="3" height="6" fill="#00ff00" />
<rect x="708" y="641" width="3" height="4" fill="#00ff00" />
<rect x="724" y="643" width="3" height="2" fill="#00ff00" />
<rect x="740" y="642" width="3" height="3" fill="#00ff00" />
<rect x="756" y="641" width="3" height="4" fill="#00ff00" />
<rect x="772" y="639" width="3" height="6" fill="#00ff00" />
<rect x="788" y="638" width="3" height="7" fill="#00ff00" />
<rect x="804" y="640" width="3" height="5" fill="#00ff00" />
<rect x="820" y="641" width="3" height="4" fill="#00ff00" />
<rect x="836" y="645" width="3" height="3" fill="#00ff00" />
<rect x="852" y="645" width="3" height="3" fill="#00ff00" />
<rect x="868" y="645" width="3" height="3" fill="#00ff00" />
<rect x="884" y="645" width="3" height="4" fill="#00ff00" />
<rect x="900" y="645" width="3" height="3" fill="#00ff00" />
<rect x="948" y="643" width="3" height="2" fill="#00ff00" />
<rect x="1012" y="643" width="3" height="2" fill="#00ff00" />
<rect x="1044" y="645" width="3" height="2" fill="#00ff00" />
<rect x="1060" y="645" width="3" height="3" fill="#00ff00" />
<rect x="1076" y="645" width="3" height="5" fill="#00ff00" />
<rect x="1092" y="645" width="3" height="6" fill="#00ff00" />
<rect x="1108" y="645" width="3" height="6" fill="#00ff00" />
<rect x="1124" y="645" width="3" height="6" fill="#00ff00" />
<rect x="1140" y="645" width="3" height="2" fill="#00ff00" />
<rect x="1156" y="643" width="3" height="2" fill="#00ff00" />
<rect x="1172" y="640" width="3" height="5" fill="#00ff00" />
<rect x="1188" y="638" width="3" height="7" fill="#00ff00" />
<rect x="1204" y="637" width="3" height="8" fill="#00ff00" />
<rect x="1220" y="636" width="3" height="9" fill="#00ff00" />
<rect x="1236" y="634" width="3" height="11" fill="#00ff00" />
<rect x="1252" y="632" width="3" height="13" fill="#00ff00" />
<rect x="1268" y="631" width="3" height="14" fill="#00ff00" />
<rect x="1284" y="630" width="3" height="15" fill="#00ff00" />
</g>
<polyline points="5.5,667 21.5,669.5 37.5,673.25 53.5,678 69.5,684.5 85.5,690.5 101.5,695 117.5,699.25 133.5,700.75 149.5,700.75 165.5,698 181.5,693.75 197.5,687 213.5,679.5 229.5,670 245.5,662.5 261.5,655 277.5,648.75 293.5,642.5 309.5,638 325.5,634.25 341.5,631.25 357.5,628.75 373.5,628 389.5,626.75 405.5,625.75 421.5,625 437.5,624.75 453.5,624.25 469.5,623 485.5,622 501.5,622.5 517.5,623.5 533.5,624.5 549.5,625.5 565.5,628 581.5,631.25 597.5,635 613.5,638 629.5,642 645.5,644.5 661.5,644.5 677.5,644.5 693.5,644.5 709.5,644.5 725.5,644.5 741.5,643 757.5,642 773.5,641 789.5,640 805.5,640 821.5,640.5 837.5,641.5 853.5,642 869.5,642.5 885.5,643 901.5,643.5 917.5,644 933.5,644.5 949.5,644.5 965.5,644.5 981.5,644.5 997.5,644.5 1013.5,643.5 1029.5,643.5 1045.5,643.5 1061.5,644.5 1077.5,644.5 1093.5,645.5 1109.5,645.5 1125.5,646.5 1141.5,646.5 1157.5,646.5 1173.5,646.5 1189.5,645 1205.5,644 1221.5,643 1237.5,641.5 1253.5,639.5 1269.5,637.5 1285.5,635.7" fill="none" stroke="#ff0000" stroke-width="2" shape-rendering="crispEdges"/>
</g></svg>
<text x="9.5" y="624" font-size="10" fill="#000" stroke="#000" stroke-width="0.2" textLength="147.5" lengthAdjust="spacingAndGlyphs" >MACD(12,26,9) 0.003630 0.002375</text>
<g shape-rendering="crispEdges">
<rect x="1645" y="613" width="3" height="1" fill="#000" />
<rect x="1645" y="645" width="3" height="1" fill="#000" />
<rect x="1645" y="718" width="3" height="1" fill="#000" />
</g>
<text x="1648" y="622" font-size="10" fill="#000" stroke="#000" stroke-width="0.2" textLength="38" lengthAdjust="spacingAndGlyphs" >0.007929</text>
<text x="1648" y="649" font-size="10" fill="#000" stroke="#000" stroke-width="0.2" textLength="17" lengthAdjust="spacingAndGlyphs" >0.00</text>
<text x="1648" y="716" font-size="10" fill="#000" stroke="#000" stroke-width="0.2" textLength="41" lengthAdjust="spacingAndGlyphs" >-0.017743</text>
<g shape-rendering="crispEdges">
<line x1="6" y1="742.5" x2="1644" y2="742.5" stroke="#000" stroke-width="1" stroke-dasharray="3 3"/>
<line x1="6" y1="772.5" x2="1644" y2="772.5" stroke="#000" stroke-width="1" stroke-dasharray="3 3"/>
<line x1="6" y1="807.5" x2="1644" y2="807.5" stroke="#000" stroke-width="1" stroke-dasharray="3 3"/>
</g>
<svg x="5" y="722" width="1639" height="100" overflow="hidden"><g transform="translate(-5,-722)">
<polyline points="5.5,791.75 21.5,792.5 37.5,793 47.5,794.75 53.5,794.75 69.5,788 85.5,784.25 101.5,779.25 117.5,777.5 133.5,766.75 149.5,768.75 165.5,768.75 181.5,766 197.5,763.25 213.5,763 229.5,763.25 245.5,764.75 261.5,765 277.5,765.75 293.5,763.75 309.5,768.75 325.5,766.75 341.5,768 357.5,767.75 373.5,764 389.5,764 405.5,764.75 421.5,762.5 437.5,761 453.5,762.5 469.5,760.75 485.5,773.5 501.5,771.25 517.5,774.25 533.5,775.5 549.5,775.5 565.5,783 581.5,776 597.5,774.75 613.5,778.75 629.5,774.5 645.5,763.75 661.5,764.75 677.5,768 693.5,772.5 709.5,773.75 725.5,773.5 741.5,770 757.5,769.75 773.5,766.75 789.5,769.25 805.5,773.5 821.5,775.5 837.5,778 853.5,772.5 869.5,772.5 885.5,772.5 901.5,770 917.5,770 933.5,770 949.5,771.75 965.5,775 981.5,770 997.5,770 1013.5,770 1029.5,773.5 1045.5,774.25 1061.5,776 1077.5,776 1093.5,776 1109.5,773.5 1125.5,776 1141.5,768 1157.5,761 1173.5,763.5 1189.5,763.75 1205.5,765.5 1221.5,763.75 1237.5,762 1253.5,760.9 1269.5,762.5 1285.5,762.8" fill="none" stroke="#1e90ff" stroke-width="2" shape-rendering="crispEdges"/>
</g></svg>
<text x="9.5" y="734" font-size="10" fill="#000" stroke="#000" stroke-width="0.2" textLength="67.5" lengthAdjust="spacingAndGlyphs" >RSI(14) 59.2078</text>
<g shape-rendering="crispEdges">
<rect x="1645" y="723" width="3" height="1" fill="#000" />
<rect x="1645" y="742" width="3" height="1" fill="#000" />
<rect x="1645" y="772" width="3" height="1" fill="#000" />
<rect x="1645" y="807" width="3" height="1" fill="#000" />
<rect x="1645" y="821" width="3" height="1" fill="#000" />
</g>
<text x="1648" y="732" font-size="10" fill="#000" stroke="#000" stroke-width="0.2" textLength="14" lengthAdjust="spacingAndGlyphs" >100</text>
<text x="1648" y="746" font-size="10" fill="#000" stroke="#000" stroke-width="0.2" textLength="9.5" lengthAdjust="spacingAndGlyphs" >80</text>
<text x="1648" y="776" font-size="10" fill="#000" stroke="#000" stroke-width="0.2" textLength="9.5" lengthAdjust="spacingAndGlyphs" >50</text>
<text x="1648" y="811" font-size="10" fill="#000" stroke="#000" stroke-width="0.2" textLength="9.5" lengthAdjust="spacingAndGlyphs" >15</text>
<text x="1648" y="819" font-size="10" fill="#000" stroke="#000" stroke-width="0.2" textLength="5" lengthAdjust="spacingAndGlyphs" >0</text>
<g shape-rendering="crispEdges">
<rect x="5" y="823" width="1" height="3" fill="#000" />
<rect x="69" y="823" width="1" height="3" fill="#000" />
<rect x="133" y="823" width="1" height="3" fill="#000" />
<rect x="197" y="823" width="1" height="3" fill="#000" />
<rect x="261" y="823" width="1" height="3" fill="#000" />
<rect x="325" y="823" width="1" height="3" fill="#000" />
<rect x="389" y="823" width="1" height="3" fill="#000" />
<rect x="453" y="823" width="1" height="3" fill="#000" />
<rect x="517" y="823" width="1" height="3" fill="#000" />
<rect x="581" y="823" width="1" height="3" fill="#000" />
<rect x="645" y="823" width="1" height="3" fill="#000" />
<rect x="709" y="823" width="1" height="3" fill="#000" />
<rect x="773" y="823" width="1" height="3" fill="#000" />
<rect x="837" y="823" width="1" height="3" fill="#000" />
<rect x="901" y="823" width="1" height="3" fill="#000" />
<rect x="965" y="823" width="1" height="3" fill="#000" />
<rect x="1029" y="823" width="1" height="3" fill="#000" />
<rect x="1093" y="823" width="1" height="3" fill="#000" />
<rect x="1157" y="823" width="1" height="3" fill="#000" />
<rect x="1221" y="823" width="1" height="3" fill="#000" />
<rect x="1285" y="823" width="1" height="3" fill="#000" />
</g>
<text x="4" y="835" font-size="10" fill="#000" stroke="#000" stroke-width="0.2" textLength="51" lengthAdjust="spacingAndGlyphs" >23 Mar 2023</text>
<text x="68" y="835" font-size="10" fill="#000" stroke="#000" stroke-width="0.2" textLength="54.5" lengthAdjust="spacingAndGlyphs" >23 Mar 16:00</text>
<text x="132" y="835" font-size="10" fill="#000" stroke="#000" stroke-width="0.2" textLength="54.5" lengthAdjust="spacingAndGlyphs" >24 Mar 08:00</text>
<text x="196" y="835" font-size="10" fill="#000" stroke="#000" stroke-width="0.2" textLength="54.5" lengthAdjust="spacingAndGlyphs" >27 Mar 04:00</text>
<text x="260" y="835" font-size="10" fill="#000" stroke="#000" stroke-width="0.2" textLength="54.5" lengthAdjust="spacingAndGlyphs" >27 Mar 20:00</text>
<text x="324" y="835" font-size="10" fill="#000" stroke="#000" stroke-width="0.2" textLength="54.5" lengthAdjust="spacingAndGlyphs" >28 Mar 12:00</text>
<text x="388" y="835" font-size="10" fill="#000" stroke="#000" stroke-width="0.2" textLength="54.5" lengthAdjust="spacingAndGlyphs" >29 Mar 04:00</text>
<text x="452" y="835" font-size="10" fill="#000" stroke="#000" stroke-width="0.2" textLength="54.5" lengthAdjust="spacingAndGlyphs" >29 Mar 20:00</text>
<text x="516" y="835" font-size="10" fill="#000" stroke="#000" stroke-width="0.2" textLength="54.5" lengthAdjust="spacingAndGlyphs" >30 Mar 12:00</text>
<text x="580" y="835" font-size="10" fill="#000" stroke="#000" stroke-width="0.2" textLength="54.5" lengthAdjust="spacingAndGlyphs" >31 Mar 04:00</text>
<text x="644" y="835" font-size="10" fill="#000" stroke="#000" stroke-width="0.2" textLength="48" lengthAdjust="spacingAndGlyphs" >3 Apr 00:00</text>
<text x="708" y="835" font-size="10" fill="#000" stroke="#000" stroke-width="0.2" textLength="48" lengthAdjust="spacingAndGlyphs" >3 Apr 16:00</text>
<text x="772" y="835" font-size="10" fill="#000" stroke="#000" stroke-width="0.2" textLength="48" lengthAdjust="spacingAndGlyphs" >4 Apr 08:00</text>
<text x="836" y="835" font-size="10" fill="#000" stroke="#000" stroke-width="0.2" textLength="48" lengthAdjust="spacingAndGlyphs" >5 Apr 00:00</text>
<text x="900" y="835" font-size="10" fill="#000" stroke="#000" stroke-width="0.2" textLength="48" lengthAdjust="spacingAndGlyphs" >5 Apr 16:00</text>
<text x="964" y="835" font-size="10" fill="#000" stroke="#000" stroke-width="0.2" textLength="48" lengthAdjust="spacingAndGlyphs" >6 Apr 08:00</text>
<text x="1028" y="835" font-size="10" fill="#000" stroke="#000" stroke-width="0.2" textLength="48" lengthAdjust="spacingAndGlyphs" >7 Apr 00:00</text>
<text x="1092" y="835" font-size="10" fill="#000" stroke="#000" stroke-width="0.2" textLength="48" lengthAdjust="spacingAndGlyphs" >7 Apr 16:00</text>
<text x="1156" y="835" font-size="10" fill="#000" stroke="#000" stroke-width="0.2" textLength="54.5" lengthAdjust="spacingAndGlyphs" >10 Apr 12:00</text>
<text x="1220" y="835" font-size="10" fill="#000" stroke="#000" stroke-width="0.2" textLength="54.5" lengthAdjust="spacingAndGlyphs" >11 Apr 04:00</text>
<text x="1284" y="835" font-size="10" fill="#000" stroke="#000" stroke-width="0.2" textLength="54.5" lengthAdjust="spacingAndGlyphs" >11 Apr 20:00</text>
</svg>
</body></html>
